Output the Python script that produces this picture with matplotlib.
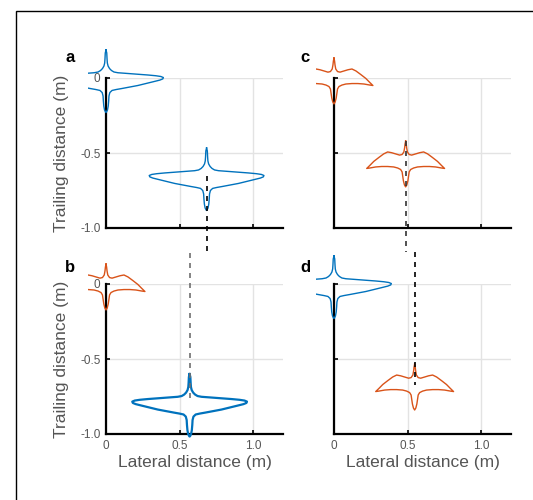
import matplotlib

matplotlib.use("Agg")
import matplotlib.pyplot as plt
import numpy as np
from matplotlib.patches import Rectangle
from matplotlib.transforms import Bbox, TransformedBbox

plt.rcParams["font.family"] = ["Liberation Sans", "DejaVu Sans"]

BLUE = "#0072BD"
ORANGE = "#D95319"

# half outlines (right side) of the two bird shapes, metres from the reference point
BLUE_HALF_X = [0, 0.005, 0.007, 0.009, 0.014, 0.024, 0.037, 0.054, 0.081, 0.149, 0.216,
               0.284, 0.338, 0.372, 0.389, 0.385, 0.365, 0.324, 0.270, 0.216, 0.162,
               0.108, 0.068, 0.041, 0.026, 0.020, 0.018, 0.015, 0.010, 0.003, 0]
BLUE_HALF_Y = [0.187, 0.167, 0.127, 0.100, 0.080, 0.063, 0.050, 0.040, 0.035, 0.030, 0.025,
               0.020, 0.015, 0.010, 0.003, -0.006, -0.014, -0.024, -0.037, -0.050, -0.060,
               -0.070, -0.077, -0.083, -0.097, -0.120, -0.153, -0.187, -0.213, -0.227, -0.230]
ORANGE_HALF_X = [0, 0.004, 0.007, 0.012, 0.024, 0.041, 0.068, 0.095, 0.122, 0.149, 0.182,
                 0.216, 0.243, 0.264, 0.243, 0.203, 0.162, 0.122, 0.081, 0.054, 0.034,
                 0.024, 0.020, 0.015, 0.008, 0]
ORANGE_HALF_Y = [0.133, 0.113, 0.087, 0.060, 0.043, 0.039, 0.047, 0.055, 0.060, 0.047, 0.023,
                 -0.003, -0.030, -0.050, -0.047, -0.040, -0.037, -0.037, -0.040, -0.047, -0.057,
                 -0.073, -0.100, -0.133, -0.160, -0.173]

PANELS = ["a", "b", "c", "d"]
LEADER = ["blue", "orange", "orange", "blue"]
FOLLOWER = ["blue", "blue", "orange", "orange"]
FOLLOW_X = [0.682, 0.567, 0.486, 0.547]
FOLLOW_Y = [-0.653, -0.787, -0.553, -0.667]
FOLLOW_LW = [1.0, 1.6, 1.0, 1.0]

# dashed guide lines (x, y start, y end)
DASH_X = [0.682, 0.567, 0.486, 0.547]
DASH_Y0 = [-0.653, 0.207, -0.42, 0.213]
DASH_Y1 = [-1.167, -0.787, -1.16, -0.673]
DASH_C = ["black", "#6e6e6e", "#333333", "black"]

XTICKS = [0, 0.5, 1.0]
XTICKLABELS = ["0", "0.5", "1.0"]
YTICKS = [-1.0, -0.5, 0]
YTICKLABELS = ["-1.0", "-0.5", "0"]

SHAPES = {
    "blue": (np.array(BLUE_HALF_X), np.array(BLUE_HALF_Y), BLUE),
    "orange": (np.array(ORANGE_HALF_X), np.array(ORANGE_HALF_Y), ORANGE),
}


def draw_bird(ax, kind, x0, y0, lw):
    hx, hy, col = SHAPES[kind]
    xs = np.concatenate([hx, -hx[::-1]]) + x0
    ys = np.concatenate([hy, hy[::-1]]) + y0
    line, = ax.plot(xs, ys, color=col, lw=lw, zorder=3, solid_joinstyle="round")
    line.set_clip_box(TransformedBbox(Bbox([[-0.122, -1.6], [1.6, 0.6]]), ax.transData))
    line.set_clip_on(True)


fig = plt.figure(figsize=(5.33, 5.0), dpi=100)
fig.add_artist(Rectangle((16 / 533, -0.1), 1.0, 0.978 + 0.1, transform=fig.transFigure,
                         fill=False, ec="black", lw=1.0))

pos = {"a": (0.1989, 0.544), "b": (0.1989, 0.132), "c": (0.6266, 0.544), "d": (0.6266, 0.132)}
letter_pos = {"a": (70, 57), "b": (70, 267), "c": (305, 58), "d": (305, 267)}

for i, p in enumerate(PANELS):
    ax = fig.add_axes([pos[p][0], pos[p][1], 0.332, 0.30])
    ax.set_xlim(0, 1.2)
    ax.set_ylim(-1.0, 0)
    ax.set_axisbelow(True)
    ax.grid(True, color="#e3e3e3", lw=1.0)
    for s in ["top", "right"]:
        ax.spines[s].set_visible(False)
    for s in ["left", "bottom"]:
        ax.spines[s].set_linewidth(1.6)
    ax.set_xticks(XTICKS)
    ax.set_yticks(YTICKS)
    ax.tick_params(direction="in", length=3, width=1.2, colors="black",
                   labelcolor="#555555", labelsize=8.5, pad=4)
    if p in ("b", "d"):
        ax.set_xticklabels(XTICKLABELS)
        ax.set_xlabel("Lateral distance (m)", fontsize=12.5, color="#555555")
        ax.xaxis.set_label_coords(0.5, -0.14)
    else:
        ax.set_xticklabels([])
    if p in ("a", "b"):
        ax.set_yticklabels(YTICKLABELS)
        ax.set_ylabel("Trailing distance (m)", fontsize=12.5, color="#555555")
        ax.yaxis.set_label_coords(-0.21, 0.5)
    else:
        ax.set_yticklabels([])

    draw_bird(ax, LEADER[i], 0, 0, 1.0)
    draw_bird(ax, FOLLOWER[i], FOLLOW_X[i], FOLLOW_Y[i], FOLLOW_LW[i])
    ax.plot([DASH_X[i], DASH_X[i]], [DASH_Y0[i], DASH_Y1[i]], color=DASH_C[i],
            lw=1.2, ls=(0, (3, 3)), clip_on=False, zorder=4)

    lx, ly = letter_pos[p]
    fig.text(lx / 533, 1 - ly / 500, p, ha="center", va="center",
             fontsize=12, fontweight="bold")

fig.savefig("out.png", dpi=100)
